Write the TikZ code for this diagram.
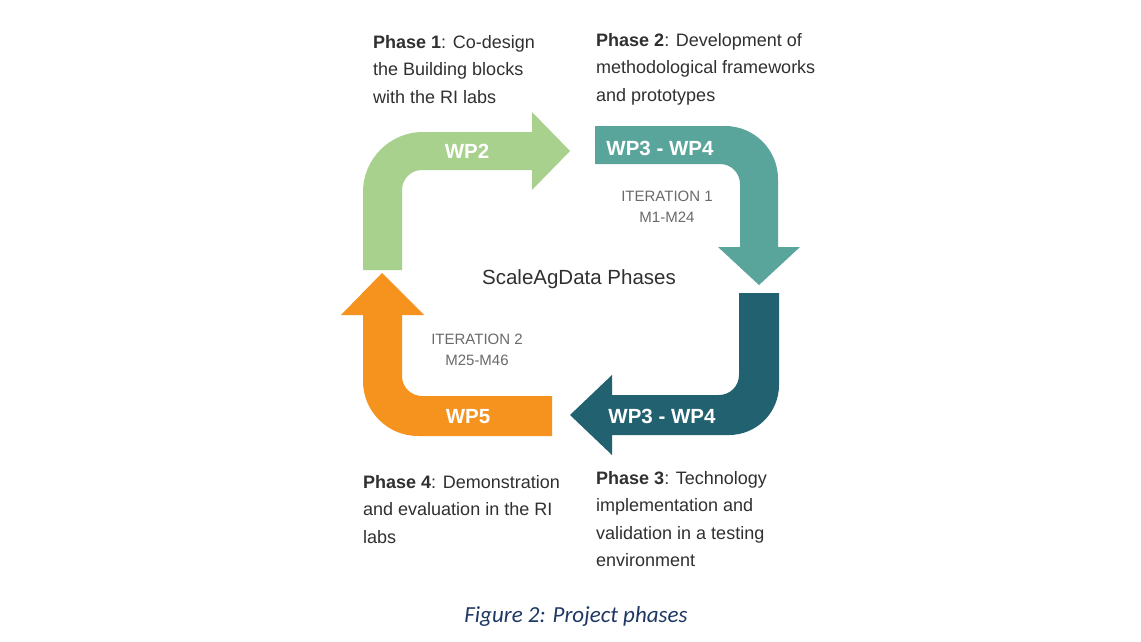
\documentclass[tikz,border=0pt]{standalone}
\usepackage{fontspec}
\setmainfont{Liberation Sans}
\newfontfamily\capfont{Carlito}
\usepackage{tikz}
\usetikzlibrary{positioning}
\definecolor{wpgreen}{HTML}{A9D18E}
\definecolor{wpteal}{HTML}{5AA59B}
\definecolor{wpdark}{HTML}{22616F}
\definecolor{wporange}{HTML}{F6931E}
\definecolor{itergray}{HTML}{6A6A6A}
\definecolor{phasetext}{HTML}{303030}
\definecolor{capblue}{HTML}{1F3864}

\begin{document}
\begin{tikzpicture}[x=1pt,y=-1pt,
  wp/.style={text=white,font=\fontsize{20.5}{24}\selectfont\bfseries,inner sep=0pt},
  iter/.style={text=itergray,font=\fontsize{15}{21}\selectfont,align=center,inner sep=0pt},
  phase/.style={text=phasetext,font=\fontsize{18}{27.5}\selectfont,align=left,
                anchor=north west,inner sep=0pt},
  heading/.style={text=phasetext,font=\fontsize{20.5}{24}\selectfont,inner sep=0pt},
  figcap/.style={text=capblue,font=\capfont\itshape\fontsize{23}{26}\selectfont,inner sep=0pt}]
  \useasboundingbox[fill=white] (0,0) rectangle (1141,642);
  % the four bent arrows
  \fill[wpgreen] (363,270) -- (363,192) arc[start angle=180,end angle=270,radius=60]
       -- (532,132) -- (532,112) -- (570,151) -- (532,190) -- (532,170)
       -- (422,170) arc[start angle=270,end angle=180,radius=20] -- (402,270) -- cycle;
  \fill[wpteal] (595,126) -- (725,126) arc[start angle=270,end angle=360,radius=53]
       -- (778,247) -- (800,247) -- (759,285) -- (718,247) -- (740,247)
       -- (740,184) arc[start angle=0,end angle=-90,radius=20] -- (595,164) -- cycle;
  \fill[wpdark] (739,293) -- (779,293) -- (779,385) arc[start angle=0,end angle=90,radius=50]
       -- (612,435) -- (612,455) -- (570,415) -- (612,375) -- (612,395)
       -- (719,395) arc[start angle=90,end angle=0,radius=20] -- cycle;
  \fill[wporange] (552,396) -- (552,436) -- (418,436) arc[start angle=90,end angle=180,radius=55]
       -- (363,315) -- (341,315) -- (382,273) -- (424,315) -- (402,315)
       -- (402,376) arc[start angle=180,end angle=90,radius=20] -- cycle;
  % labels on and between the arrows
  \node[wp] (wp2) at (467,151) {WP2};
  \node[wp] (wpa) at (660,148) {WP3 - WP4};
  \node[iter] (it1) at (667,207) {ITERATION 1\\M1-M24};
  \node[heading] (ttl) at (579,279) {ScaleAgData Phases};
  \node[iter] (it2) at (477,350) {ITERATION 2\\M25-M46};
  \node[wp] (wpb) at (662,416) {WP3 - WP4};
  \node[wp] (wp5) at (468,417) {WP5};
  % phases
  \node[phase] (ph1) at (373,35) {\textbf{Phase 1}: Co-design\\the Building blocks\\with the RI labs};
  \node[phase] (ph2) at (596,33) {\textbf{Phase 2}: Development of\\methodological frameworks\\and prototypes};
  \node[phase] (ph3) at (596,471) {\textbf{Phase 3}: Technology\\implementation and\\validation in a testing\\environment};
  \node[phase] (ph4) at (363,475) {\textbf{Phase 4}: Demonstration\\and evaluation in the RI\\labs};
  \node[figcap] (cap) at (576,616) {Figure 2: Project phases};
\end{tikzpicture}
\end{document}
